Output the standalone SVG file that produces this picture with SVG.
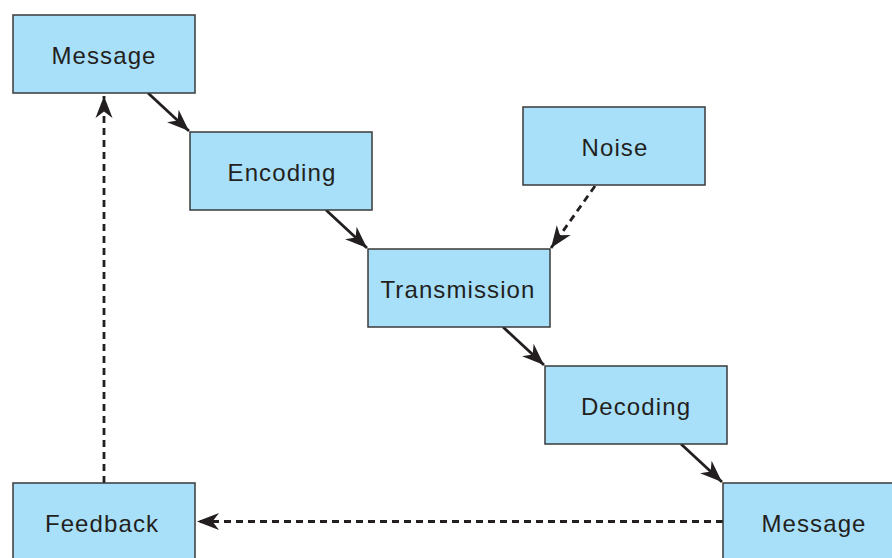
<svg xmlns="http://www.w3.org/2000/svg" width="892" height="558" viewBox="0 0 892 558">
  <style>
    .box { fill: #a9e0f9; stroke: #3a3a3a; stroke-width: 1.5; }
    .label { font-family: "Liberation Sans", Arial, sans-serif; font-size: 24px; letter-spacing: 1.1px; fill: #231f20; text-anchor: middle; }
    .solid { stroke: #231f20; stroke-width: 2.8; fill: none; }
    .dashed { stroke: #231f20; stroke-width: 2.8; fill: none; stroke-dasharray: 7 5; }
  </style>
  <defs>
    <marker id="head" markerUnits="userSpaceOnUse" viewBox="-24 -10 26 20" refX="0" refY="0" markerWidth="26" markerHeight="20" orient="auto">
      <path d="M0,0 L-22,-8.5 L-15.5,0 L-22,8.5 Z" fill="#231f20"/>
    </marker>
  </defs>

  <rect width="892" height="558" fill="#ffffff"/>

  <g id="connectors">
    <line class="solid" x1="148" y1="93" x2="189" y2="131" marker-end="url(#head)"/>
    <line class="solid" x1="326" y1="210" x2="367" y2="248" marker-end="url(#head)"/>
    <line class="solid" x1="503" y1="327" x2="544" y2="365" marker-end="url(#head)"/>
    <line class="solid" x1="681" y1="444" x2="722" y2="482" marker-end="url(#head)"/>
    <line class="dashed" x1="595" y1="186" x2="551" y2="248" marker-end="url(#head)"/>
    <line class="dashed" x1="104" y1="483" x2="104" y2="96" marker-end="url(#head)"/>
    <line class="dashed" x1="723" y1="521.5" x2="197" y2="521.5" marker-end="url(#head)"/>
  </g>

  <g id="message-top">
    <rect class="box" x="13" y="15" width="182" height="78"/>
    <text class="label" x="104" y="63.5">Message</text>
  </g>
  <g id="encoding">
    <rect class="box" x="190" y="132" width="182" height="78"/>
    <text class="label" x="282" y="180.5">Encoding</text>
  </g>
  <g id="noise">
    <rect class="box" x="523" y="107" width="182" height="78"/>
    <text class="label" x="615" y="155.5">Noise</text>
  </g>
  <g id="transmission">
    <rect class="box" x="368" y="249" width="182" height="78"/>
    <text class="label" x="458" y="297.5">Transmission</text>
  </g>
  <g id="decoding">
    <rect class="box" x="545" y="366" width="182" height="78"/>
    <text class="label" x="636" y="414.5">Decoding</text>
  </g>
  <g id="feedback">
    <rect class="box" x="13" y="483" width="182" height="78"/>
    <text class="label" x="102" y="531.5">Feedback</text>
  </g>
  <g id="message-bottom">
    <rect class="box" x="723" y="483" width="182" height="78"/>
    <text class="label" x="814" y="531.5">Message</text>
  </g>
</svg>
